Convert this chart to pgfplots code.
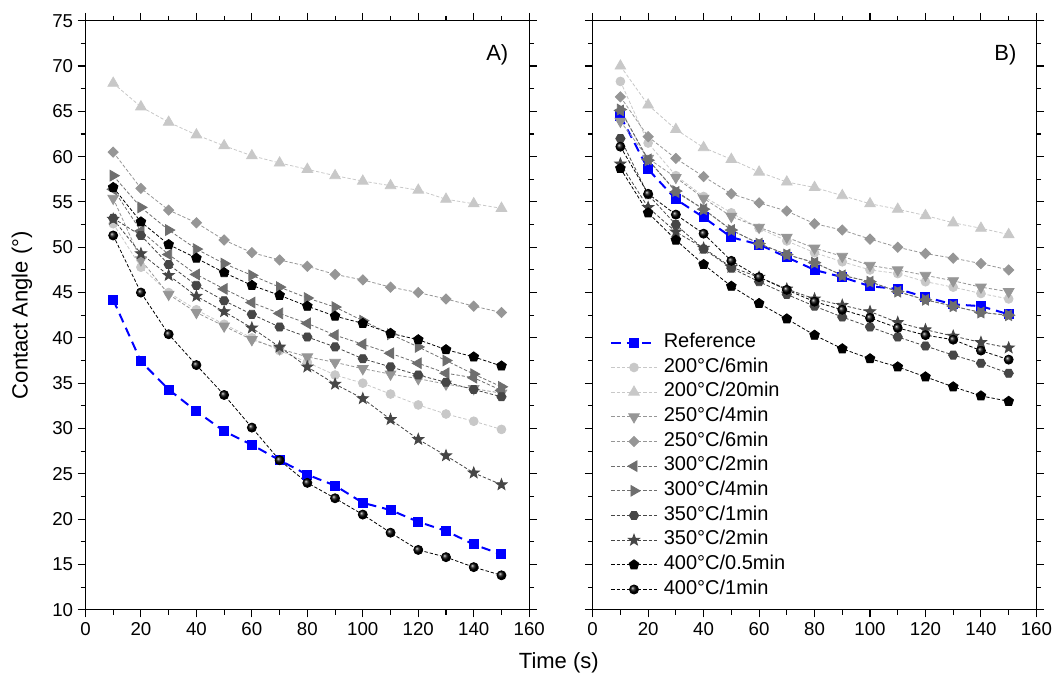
\documentclass[border=0pt]{standalone}
\usepackage{fontspec}
\setmainfont{Liberation Sans}
\usepackage{pgfplots}
\usepackage{pgfplotstable}
\pgfplotsset{compat=1.18}
\usetikzlibrary{plotmarks}

\definecolor{gA}{HTML}{C8C8C8}
\definecolor{gB}{HTML}{969696}
\definecolor{gC}{HTML}{6E6E6E}
\definecolor{gD}{HTML}{464646}
\definecolor{refblue}{HTML}{0000FF}

% hexagon and filled star marks
\pgfdeclareplotmark{hexagon*}{%
  \pgfpathmoveto{\pgfpointpolar{0}{\pgfplotmarksize}}%
  \pgfpathlineto{\pgfpointpolar{60}{\pgfplotmarksize}}%
  \pgfpathlineto{\pgfpointpolar{120}{\pgfplotmarksize}}%
  \pgfpathlineto{\pgfpointpolar{180}{\pgfplotmarksize}}%
  \pgfpathlineto{\pgfpointpolar{240}{\pgfplotmarksize}}%
  \pgfpathlineto{\pgfpointpolar{300}{\pgfplotmarksize}}%
  \pgfpathclose
  \pgfusepathqfillstroke}
\pgfdeclareplotmark{fstar}{%
  \pgfpathmoveto{\pgfpointpolar{90}{\pgfplotmarksize}}%
  \pgfpathlineto{\pgfpointpolar{126}{0.42\pgfplotmarksize}}%
  \pgfpathlineto{\pgfpointpolar{162}{\pgfplotmarksize}}%
  \pgfpathlineto{\pgfpointpolar{198}{0.42\pgfplotmarksize}}%
  \pgfpathlineto{\pgfpointpolar{234}{\pgfplotmarksize}}%
  \pgfpathlineto{\pgfpointpolar{270}{0.42\pgfplotmarksize}}%
  \pgfpathlineto{\pgfpointpolar{306}{\pgfplotmarksize}}%
  \pgfpathlineto{\pgfpointpolar{342}{0.42\pgfplotmarksize}}%
  \pgfpathlineto{\pgfpointpolar{18}{\pgfplotmarksize}}%
  \pgfpathlineto{\pgfpointpolar{54}{0.42\pgfplotmarksize}}%
  \pgfpathclose
  \pgfusepathqfillstroke}

\pgfplotsset{
  sref/.style={refblue, line width=1.5pt, dash pattern=on 7pt off 4.5pt, mark=square*, mark size=3pt, mark options={solid, fill=refblue, draw=refblue}},
  sgray/.style={#1, line width=0.6pt, dash pattern=on 2.5pt off 1.5pt},
  s1/.style={sgray=gA, mark=*, mark size=3.3pt, mark options={solid, fill=gA, draw=gA}},
  s2/.style={sgray=gA, mark=triangle*, mark size=4.6pt, mark options={solid, fill=gA, draw=gA}},
  s3/.style={sgray=gB, mark=triangle*, mark size=4.6pt, mark options={solid, rotate=180, fill=gB, draw=gB}},
  s4/.style={sgray=gB, mark=square*, mark size=2.7pt, mark options={solid, rotate=45, fill=gB, draw=gB}},
  s5/.style={sgray=gC, mark=triangle*, mark size=4.6pt, mark options={solid, rotate=90, fill=gC, draw=gC}},
  s6/.style={sgray=gC, mark=triangle*, mark size=4.6pt, mark options={solid, rotate=-90, fill=gC, draw=gC}},
  s7/.style={sgray=gD, mark=hexagon*, mark size=3.5pt, mark options={solid, fill=gD, draw=gD}},
  s8/.style={sgray=gD, mark=fstar, mark size=4.4pt, mark options={solid, fill=gD, draw=gD}},
  s9/.style={sgray=black, mark=pentagon*, mark size=3.8pt, mark options={solid, fill=black, draw=black}},
  s10/.style={sgray=black, mark=ball, mark size=3.4pt, mark options={solid, ball color=black}},
  cax/.style={
    width=332.8pt, height=441.75pt, scale only axis,
    xmin=0, xmax=160, ymin=10, ymax=75,
    xtick={0,20,...,160}, minor xtick={10,30,...,150},
    ytick={10,15,...,75}, minor ytick={12.5,17.5,...,72.5},
    tick align=outside, major tick length=5.8pt, minor tick length=3.6pt,
    xtick pos=both, ytick pos=both, xticklabel pos=lower,
    tick style={black, line width=0.8pt},
    axis line style={line width=0.8pt},
    tick label style={font=\fontsize{14}{16}\selectfont},
    /pgf/number format/assume math mode=true,
    legend image code/.code={\draw[mark repeat=2,mark phase=2,##1] plot coordinates {(0cm,0cm) (0.6cm,0cm) (1.2cm,0cm)};},
  },
}

\pgfplotstableread{
t ref c6 c20 d4 d6 l2 r4 h1 s2 p05 b1
10 44.2 52.6 68.1 55.4 60.5 56.4 57.9 53.2 53.1 56.6 51.3
20 37.4 47.8 65.5 48.6 56.5 51.8 54.4 51.3 49.3 52.8 45.0
30 34.3 45.0 63.8 44.8 54.1 49.2 51.9 48.1 46.9 50.3 40.4
40 31.9 43.1 62.4 42.8 52.7 47.0 49.8 45.8 44.6 48.8 37.0
50 29.7 41.5 61.2 41.3 50.8 45.4 48.2 44.1 42.9 47.2 33.7
60 28.2 40.0 60.1 39.8 49.4 43.9 46.9 42.6 41.1 45.8 30.1
70 26.5 38.6 59.3 38.8 48.6 42.7 45.6 41.2 39.0 44.7 26.5
80 24.9 37.3 58.6 37.9 47.9 41.6 44.4 40.1 36.8 43.5 24.0
90 23.7 35.9 57.9 37.3 47.0 40.3 43.4 39.0 34.9 42.4 22.3
100 21.8 35.0 57.3 36.6 46.4 39.3 41.9 37.7 33.3 41.6 20.5
110 21.0 33.8 56.8 36.0 45.6 38.3 40.4 36.8 31.0 40.5 18.5
120 19.7 32.6 56.3 35.5 45.0 37.2 39.0 35.9 28.8 39.8 16.6
130 18.7 31.6 55.3 34.9 44.3 36.1 37.5 35.1 27.0 38.7 15.8
140 17.2 30.8 54.8 34.4 43.5 35.6 36.0 34.3 25.1 37.9 14.7
150 16.1 29.9 54.3 33.9 42.8 34.2 34.6 33.5 23.8 36.9 13.8
}\dataA

\pgfplotstableread{
t ref c6 c20 d4 d6 l2 r4 h1 s2 p05 b1
10 64.5 68.3 70.0 63.9 66.6 65.1 65.2 62.0 59.2 58.7 61.1
20 58.6 61.5 65.7 59.8 62.2 59.7 59.6 55.8 54.4 53.8 55.9
30 55.3 57.9 63.0 57.7 59.8 56.1 56.2 52.5 51.7 50.8 53.6
40 53.3 55.6 61.0 55.4 57.8 54.2 54.2 49.8 49.9 48.1 51.5
50 51.1 53.8 59.7 53.4 55.9 51.9 51.9 47.7 47.8 45.7 48.5
60 50.3 52.1 58.3 52.2 54.9 50.4 50.4 46.2 46.7 43.8 46.7
70 48.9 50.7 57.2 51.1 54.0 49.2 49.2 44.8 45.4 42.1 45.3
80 47.5 49.4 56.6 49.9 52.6 48.3 48.3 43.5 44.3 40.3 44.0
90 46.7 48.4 55.7 49.0 51.9 46.9 46.9 42.3 43.6 38.8 43.1
100 45.7 47.5 54.8 48.0 50.9 46.2 46.2 41.2 42.9 37.7 42.2
110 45.4 47.1 54.2 47.5 50.0 45.1 45.1 40.1 41.7 36.8 41.1
120 44.5 46.2 53.5 46.9 49.3 44.2 44.2 39.1 40.9 35.7 40.3
130 43.7 45.6 52.7 46.3 48.8 43.5 43.5 38.1 40.2 34.6 39.8
140 43.5 44.9 52.1 45.6 48.2 42.8 42.8 37.2 39.5 33.6 38.6
150 42.6 44.3 51.4 45.1 47.5 42.5 42.5 36.1 38.9 33.0 37.6
}\dataB

\begin{document}
\begin{tikzpicture}
\path[use as bounding box] (-64.1pt,-50pt) rectangle (727.9pt,457.3pt);

% panel A
\begin{axis}[cax, at={(0pt,0pt)}, anchor=south west]
\addplot[sref] table[x=t, y=ref] {\dataA};
\addplot[s1] table[x=t, y=c6] {\dataA};
\addplot[s2] table[x=t, y=c20] {\dataA};
\addplot[s3] table[x=t, y=d4] {\dataA};
\addplot[s4] table[x=t, y=d6] {\dataA};
\addplot[s5] table[x=t, y=l2] {\dataA};
\addplot[s6] table[x=t, y=r4] {\dataA};
\addplot[s7] table[x=t, y=h1] {\dataA};
\addplot[s8] table[x=t, y=s2] {\dataA};
\addplot[s9] table[x=t, y=p05] {\dataA};
\addplot[s10] table[x=t, y=b1] {\dataA};
\node[font=\fontsize{16.5}{18}\selectfont] at (rel axis cs:0.928,0.942) {A)};
\end{axis}

% panel B
\begin{axis}[cax, at={(380.4pt,0pt)}, anchor=south west, yticklabels={},
  legend cell align=left,
  legend style={at={(0.039,0.0158)}, anchor=south west, draw=none, fill=none, inner sep=0pt,
    font=\fontsize{15}{17}\selectfont, row sep=2.5pt, column sep=3pt,
    nodes={inner sep=1.5pt, text height=10pt, text depth=3pt}}]
\addplot[sref] table[x=t, y=ref] {\dataB};
\addplot[s1] table[x=t, y=c6] {\dataB};
\addplot[s2] table[x=t, y=c20] {\dataB};
\addplot[s3] table[x=t, y=d4] {\dataB};
\addplot[s4] table[x=t, y=d6] {\dataB};
\addplot[s5] table[x=t, y=l2] {\dataB};
\addplot[s6] table[x=t, y=r4] {\dataB};
\addplot[s7] table[x=t, y=h1] {\dataB};
\addplot[s8] table[x=t, y=s2] {\dataB};
\addplot[s9] table[x=t, y=p05] {\dataB};
\addplot[s10] table[x=t, y=b1] {\dataB};
\legend{Reference, 200°C/6min, 200°C/20min, 250°C/4min, 250°C/6min, 300°C/2min, 300°C/4min, 350°C/1min, 350°C/2min, 400°C/0.5min, 400°C/1min}
\node[font=\fontsize{16.5}{18}\selectfont] at (rel axis cs:0.93,0.942) {B)};
\end{axis}

\node[rotate=90, font=\fontsize{16.5}{18}\selectfont] at (-47.6pt,220.9pt) {Contact Angle (°)};
\node[font=\fontsize{16.5}{18}\selectfont] at (355pt,-39.5pt) {Time (s)};
\end{tikzpicture}
\end{document}
